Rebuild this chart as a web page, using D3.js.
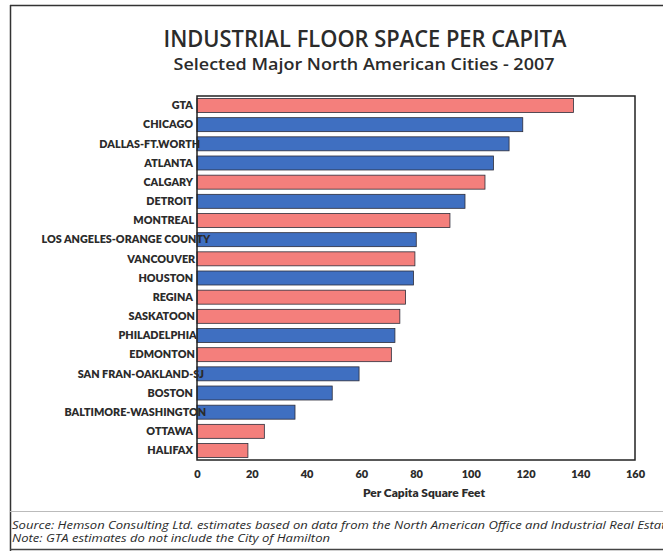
<!DOCTYPE html>
<html>
<head>
<meta charset="utf-8">
<script src="https://cdn.jsdelivr.net/npm/d3@7"></script>
<style>
  html, body { margin: 0; padding: 0; background: #fff; }
  svg { display: block; }
  text { fill: #2b2b2b; }
</style>
</head>
<body>
<svg id="chart" width="663" height="551"></svg>
<script>
// Industrial floor space per capita, selected North American cities, 2007
const cities = [
  "GTA", "CHICAGO", "DALLAS-FT.WORTH", "ATLANTA", "CALGARY", "DETROIT",
  "MONTREAL", "LOS ANGELES-ORANGE COUNTY", "VANCOUVER", "HOUSTON", "REGINA",
  "SASKATOON", "PHILADELPHIA", "EDMONTON", "SAN FRAN-OAKLAND-SJ", "BOSTON",
  "BALTIMORE-WASHINGTON", "OTTAWA", "HALIFAX"
];
const sqFtPerCapita = [
  137.5, 119, 114, 108.3, 105.2, 97.9,
  92.4, 80.1, 79.6, 79.1, 76.2,
  74.1, 72.3, 71, 59.2, 49.4,
  35.8, 24.6, 18.6
];
// Canadian cities drawn in red, US cities in blue
const country = [
  "CA", "US", "US", "US", "CA", "US",
  "CA", "US", "CA", "US", "CA",
  "CA", "US", "CA", "US", "US",
  "US", "CA", "CA"
];
const xTicks = [0, 20, 40, 60, 80, 100, 120, 140, 160];

const colors = { CA: "#f47f7c", US: "#3f6fc1" };
const data = cities.map((c, i) => ({ city: c, value: sqFtPerCapita[i], country: country[i] }));

const svg = d3.select("#chart");
const plot = { left: 197, right: 635, top: 96, bottom: 460 };

// Outer frame
svg.append("line").attr("x1", 10).attr("x2", 663).attr("y1", 5.5).attr("y2", 5.5)
  .attr("stroke", "#333").attr("stroke-width", 1.5);
svg.append("line").attr("x1", 10.5).attr("x2", 10.5).attr("y1", 5).attr("y2", 551)
  .attr("stroke", "#333").attr("stroke-width", 1.5);
svg.append("line").attr("x1", 10).attr("x2", 663).attr("y1", 511.5).attr("y2", 511.5)
  .attr("stroke", "#bbb").attr("stroke-width", 1);
svg.append("line").attr("x1", 10).attr("x2", 663).attr("y1", 549.5).attr("y2", 549.5)
  .attr("stroke", "#444").attr("stroke-width", 1.5);

// Titles
svg.append("text").attr("x", 365).attr("y", 47).attr("text-anchor", "middle")
  .attr("font-family", "'Open Sans', sans-serif").attr("font-weight", 600)
  .attr("font-size", 23).attr("textLength", 403).attr("lengthAdjust", "spacingAndGlyphs")
  .text("INDUSTRIAL FLOOR SPACE PER CAPITA");
svg.append("text").attr("x", 364).attr("y", 70).attr("text-anchor", "middle")
  .attr("font-family", "'Open Sans', sans-serif").attr("font-weight", 600)
  .attr("font-size", 17).attr("textLength", 381).attr("lengthAdjust", "spacingAndGlyphs")
  .text("Selected Major North American Cities - 2007");

// Scales
const x = d3.scaleLinear().domain([0, 160]).range([plot.left, plot.right]);
const y = d3.scaleBand().domain(cities).range([plot.top, plot.bottom]).paddingInner(0.27).paddingOuter(0.13);

// Bars
svg.append("g").selectAll("rect").data(data).join("rect")
  .attr("x", x(0))
  .attr("y", d => y(d.city))
  .attr("width", d => x(d.value) - x(0))
  .attr("height", y.bandwidth())
  .attr("fill", d => colors[d.country])
  .attr("stroke", "#2d2d3a").attr("stroke-width", 0.8);

// Plot frame
svg.append("rect").attr("x", plot.left).attr("y", plot.top)
  .attr("width", plot.right - plot.left).attr("height", plot.bottom - plot.top)
  .attr("fill", "none").attr("stroke", "#222").attr("stroke-width", 1.5);

// Category labels: right-aligned next to the axis; long names run over it
svg.append("g").selectAll("text").data(data).join("text")
  .attr("y", d => y(d.city) + y.bandwidth() / 2)
  .attr("dy", "0.35em")
  .attr("text-anchor", "end")
  .attr("font-family", "Lato, sans-serif").attr("font-weight", 800)
  .attr("font-size", 10.8)
  .text(d => d.city)
  .attr("x", function () {
    const w = this.getComputedTextLength();
    return plot.left - 4 + Math.max(0, 0.15 * w - 8);
  });

// X axis
const xAxis = d3.axisBottom(x).tickValues(xTicks).tickSize(0).tickPadding(10);
const gx = svg.append("g").attr("transform", `translate(0,${plot.bottom})`).call(xAxis);
gx.select(".domain").remove();
gx.selectAll("text").attr("font-family", "Lato, sans-serif").attr("font-weight", 800)
  .attr("font-size", 11).attr("fill", "#2b2b2b");

svg.append("text").attr("x", 424).attr("y", 497).attr("text-anchor", "middle")
  .attr("font-family", "Lato, sans-serif").attr("font-weight", 800).attr("font-size", 11)
  .attr("textLength", 122).attr("lengthAdjust", "spacingAndGlyphs")
  .text("Per Capita Square Feet");

// Footnotes, stretched to the wide footnote face
const note = svg.append("text").attr("x", 12).attr("y", 542)
  .attr("font-family", "'Open Sans', sans-serif").attr("font-style", "italic").attr("font-size", 10.5)
  .text("Note: GTA estimates do not include the City of Hamilton");
const source = svg.append("text").attr("x", 12).attr("y", 529)
  .attr("font-family", "'Open Sans', sans-serif").attr("font-style", "italic").attr("font-size", 10.5)
  .text("Source: Hemson Consulting Ltd. estimates based on data from the North American Office and Industrial Real Estate");
const stretch = 318 / note.node().getComputedTextLength();
note.attr("textLength", 318).attr("lengthAdjust", "spacingAndGlyphs");
source.attr("textLength", source.node().getComputedTextLength() * stretch).attr("lengthAdjust", "spacingAndGlyphs");
</script>
</body>
</html>
